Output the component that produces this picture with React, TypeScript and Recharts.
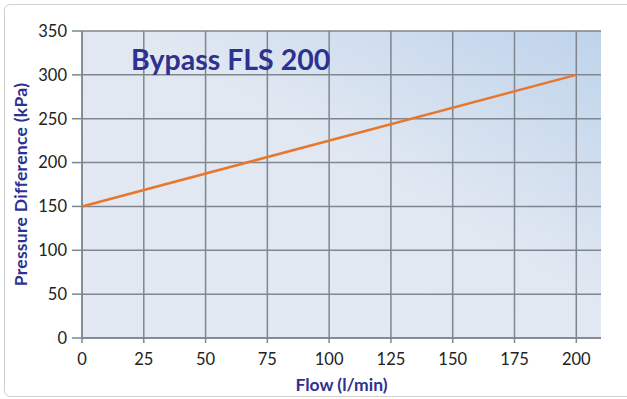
import { CartesianGrid, Line, LineChart, ReferenceLine, XAxis, YAxis } from 'recharts';

const flow = [0, 200];
const pressure = [150, 300];
const xTicks = [0, 25, 50, 75, 100, 125, 150, 175, 200];
const yTicks = [0, 50, 100, 150, 200, 250, 300, 350];

const data = flow.map((f, i) => ({ flow: f, dp: pressure[i] }));

const GRID = '#7f868f';
const NAVY = '#2d3190';
const FONT = 'Lato, "Open Sans", sans-serif';

export default function App() {
  return (
    <div style={{ position: 'absolute', left: 0, top: 0, width: 627, height: 399, background: '#fff', overflow: 'hidden' }}>
      <div
        style={{
          position: 'absolute',
          left: 4,
          top: 4,
          width: 640,
          height: 393,
          boxSizing: 'border-box',
          border: '1.5px solid #cfcfcf',
          borderRadius: 6,
        }}
      />
      <LineChart
        width={627}
        height={399}
        data={data}
        margin={{ top: 31, right: 26, bottom: 11, left: 0 }}
        style={{ position: 'absolute', left: 0, top: 0, fontFamily: FONT }}
      >
        <defs>
          <linearGradient id="plotBg" x1="0" y1="1" x2="1" y2="0">
            <stop offset="0" stopColor="#e3e9f3" />
            <stop offset="0.55" stopColor="#e1e8f2" />
            <stop offset="1" stopColor="#bed3eb" />
          </linearGradient>
        </defs>
        {/* plot background, no outline */}
        <CartesianGrid stroke="none" fill="url(#plotBg)" horizontal={false} vertical={false} />
        <CartesianGrid stroke={GRID} strokeWidth={1.5} vertical={false} horizontalValues={yTicks} />
        {xTicks.map((t) => (
          <ReferenceLine key={t} x={t} stroke={GRID} strokeWidth={1.5} />
        ))}
        <XAxis
          dataKey="flow"
          type="number"
          domain={[0, 210]}
          ticks={xTicks}
          height={50}
          tickSize={5}
          tickMargin={10}
          stroke={GRID}
          strokeWidth={1.5}
          tick={{ fill: '#222', fontSize: 16.5 }}
          label={{
            value: 'Flow (l/min)',
            position: 'insideBottom',
            offset: -3,
            style: { fill: NAVY, fontWeight: 700, fontSize: 17.5 },
          }}
        />
        <YAxis
          type="number"
          domain={[0, 350]}
          ticks={yTicks}
          width={82}
          tickSize={10}
          tickMargin={5}
          stroke={GRID}
          strokeWidth={1.5}
          tick={{ fill: '#222', fontSize: 16.5 }}
          label={{
            value: 'Pressure Difference (kPa)',
            angle: -90,
            position: 'insideLeft',
            offset: 21,
            style: { fill: NAVY, fontWeight: 700, fontSize: 17.5, letterSpacing: 0.3, textAnchor: 'middle' },
          }}
        />
        <Line
          type="linear"
          dataKey="dp"
          stroke="#e8772e"
          strokeWidth={2.5}
          dot={false}
          isAnimationActive={false}
        />
      </LineChart>
      <svg
        width={627}
        height={399}
        style={{ position: 'absolute', left: 0, top: 0, pointerEvents: 'none' }}
      >
        <text x={131} y={70} fill={NAVY} fontSize={28.5} fontWeight={700} fontFamily={FONT}>
          Bypass FLS 200
        </text>
      </svg>
    </div>
  );
}
